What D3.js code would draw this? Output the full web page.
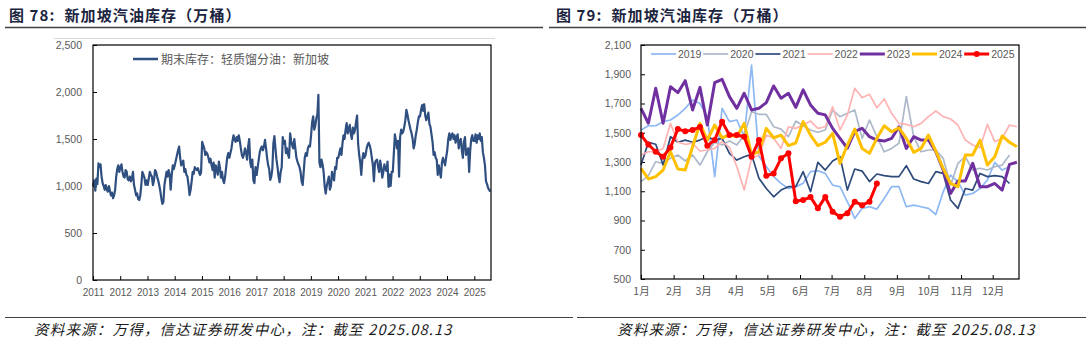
<!DOCTYPE html>
<html><head><meta charset="utf-8">
<script src="https://cdn.jsdelivr.net/npm/d3@7"></script>
<style>body{margin:0;background:#fff}svg{display:block}</style>
</head><body>
<svg id="c" width="1088" height="342"></svg>
<script>
// ---------- Left chart data: biweekly light distillate stocks (Singapore), by year ----------
const d2011 = [1000,1060,950,1080,1020,1240,1200,1230,1100,1030,1000,960,1010,960,940,1000,950,900,930,870,900,960,1100,1180,1220,1150];
const d2012 = [1200,1230,1150,1100,1090,1170,1150,1070,1060,1100,1050,1080,1150,1010,960,900,920,860,851,900,1011,1150,1120,1090,1011,1060];
const d2013 = [1011,1080,1150,1120,1100,1010,1060,1170,1150,1100,1060,1010,950,870,810,830,1011,1080,1150,1100,1170,1120,960,1117,1220,1180];
const d2014 = [1230,1280,1330,1380,1420,1300,1220,1250,1270,1150,1180,1117,1100,1011,904,960,1050,1150,1130,1200,1180,1170,1190,1150,1117,1140];
const d2015 = [1470,1436,1400,1330,1360,1340,1300,1250,1290,1220,1170,1250,1090,1220,1180,1120,1260,1200,1090,1150,1064,1030,1100,1200,1300,1350];
const d2016 = [1300,1350,1400,1480,1540,1490,1470,1520,1480,1540,1480,1400,1330,1300,1340,1400,1350,1280,1420,1500,1250,1200,1280,1060,1030,1200];
const d2017 = [1117,1200,1280,1360,1400,1420,1380,1420,1490,1400,1300,1220,1180,1064,1100,1180,1450,1530,1400,1280,1200,1100,1040,1150,1200,1520];
const d2018 = [1450,1480,1350,1400,1330,1300,1560,1480,1430,1400,1500,1400,1300,1260,1230,1200,1150,1050,1010,1150,1300,1350,1320,1400,1430,1420];
const d2019 = [1540,1680,1740,1600,1640,1720,1760,1970,1250,1200,1280,1230,1150,1000,920,1000,1050,1100,960,1000,1150,1100,1060,1200,1180,1300];
const d2020 = [1300,1350,1400,1330,1450,1540,1500,1600,1670,1560,1600,1650,1550,1500,1620,1560,1600,1680,1750,1450,1330,1250,1117,1280,1350,1300];
const d2021 = [1330,1400,1440,1460,1430,1380,1300,1220,1050,1250,1270,1280,1200,1150,1270,1200,1090,1150,1230,1180,1160,1260,990,1120,1000,1150];
const d2022 = [1150,1350,1550,1480,1400,1480,1100,1520,1600,1560,1580,1630,1700,1810,1760,1700,1650,1600,1560,1500,1400,1450,1540,1600,1680,1740];
const d2023 = [1740,1810,1860,1800,1870,1750,1700,1740,1780,1660,1630,1550,1470,1330,1360,1300,1280,1117,1220,1150,1090,1250,1300,1260,1220,1300];
const d2024 = [1380,1500,1560,1490,1540,1560,1500,1540,1460,1520,1550,1400,1480,1500,1380,1300,1470,1520,1330,1360,1400,1150,1380,1500,1540,1480];
const d2025 = [1480,1550,1460,1540,1500,1560,1480,1520,1360,1300,1220,1050,1020,980,960,940];
const distYears = [2011,2012,2013,2014,2015,2016,2017,2018,2019,2020,2021,2022,2023,2024,2025];
const distSeries = [d2011,d2012,d2013,d2014,d2015,d2016,d2017,d2018,d2019,d2020,d2021,d2022,d2023,d2024,d2025];
const leftYTicks = [0,500,1000,1500,2000,2500];
const leftLegend = "期末库存：轻质馏分油：新加坡";

// ---------- Right chart data: weekly gasoline stocks by year ----------
const w2019 = [1519,1548,1548,1576,1587,1621,1667,1724,1700,1610,1200,1667,1576,1587,1473,1963,1340,1270,1200,1154,1119,1130,1154,1234,1240,1222,1142,1131,1028,914,983,994,978,1051,1131,1131,994,1005,994,983,941,1096,1211,1166,1074,1085,1119,1177,1298,1245,1268];
const w2020 = [1166,1207,1302,1291,1325,1348,1307,1348,1279,1370,1435,1416,1443,1416,1484,1644,1626,1626,1541,1525,1473,1580,1548,1519,1503,1519,1656,1610,1633,1656,1462,1587,1473,1370,1393,1428,1747,1473,1370,1382,1382,1325,1142,1291,1336,1245,1257,1245,1268,1279,1348];
const w2021 = [1279,1435,1421,1279,1473,1435,1450,1435,1450,1473,1450,1462,1359,1313,1336,1352,1189,1119,1062,1108,1131,1131,1234,1097,1298,1245,1307,1336,1108,1252,1238,1166,1218,1207,1200,1200,1275,1184,1166,1153,1234,1222,1040,983,1119,1108,1222,1200,1207,1200,1153];
const w2022 = [1348,1370,1370,1393,1564,1435,1421,1428,1375,1382,1393,1439,1400,1268,1109,1325,1348,1484,1462,1393,1541,1530,1553,1580,1530,1541,1678,1519,1621,1804,1740,1763,1671,1731,1633,1564,1557,1541,1564,1610,1649,1610,1594,1553,1450,1416,1398,1557,1439,1462,1553,1541];
const w2023 = [1667,1565,1804,1565,1815,1774,1856,1656,1810,1553,1842,1865,1747,1667,1770,1656,1667,1706,1820,1736,1770,1674,1793,1690,1633,1622,1530,1462,1394,1510,1530,1473,1450,1443,1461,1541,1393,1473,1450,1450,1370,1245,1085,1170,1170,1291,1131,1131,1153,1108,1284,1298];
const w2024 = [1257,1184,1200,1245,1370,1252,1245,1404,1564,1450,1553,1466,1484,1473,1564,1352,1370,1530,1466,1484,1412,1430,1576,1484,1412,1435,1496,1291,1416,1525,1393,1359,1462,1548,1507,1534,1462,1366,1393,1484,1375,1257,1153,1131,1348,1348,1450,1279,1336,1478,1435,1404];
const w2025 = [1484,1420,1370,1336,1400,1525,1511,1518,1540,1411,1450,1576,1484,1484,1473,1336,1450,1206,1222,1325,1359,1032,1040,1060,983,1060,960,926,950,1029,1005,1029,1153];
const seasonNames = ["2019","2020","2021","2022","2023","2024","2025"];
const seasonValues = [w2019,w2020,w2021,w2022,w2023,w2024,w2025];
const seasonColors = ["#8db8f4","#adb9ca","#2f4b7c","#ffb3b3","#7030a0","#ffc000","#ff0000"];
const seasonWidths = [1.7,1.7,1.7,1.7,3,3,3];
const monthLabels = ["1月","2月","3月","4月","5月","6月","7月","8月","9月","10月","11月","12月"];
const rightYTicks = [500,700,900,1100,1300,1500,1700,1900,2100];

const titleLeft = "图 78:  新加坡汽油库存（万桶）";
const titleRight = "图 79:  新加坡汽油库存（万桶）";
const sourceNote = "资料来源：万得，信达证券研发中心，注：截至 2025.08.13";

// ---------- drawing ----------
const svg = d3.select("#c");
const numFont = "'Liberation Sans', Arial, sans-serif";
const cjkFont = "'Noto Sans CJK SC', sans-serif";
const gray = "#595959";

// titles + underlines
[[titleLeft, 9, 5, 543], [titleRight, 556, 549, 1086]].forEach(([t, x, l0, l1]) => {
  svg.append("text").attr("x", x).attr("y", 21).text(t).attr("xml:space", "preserve").style("white-space", "pre")
    .attr("font-family", cjkFont).attr("font-weight", 700).attr("font-size", 15).attr("letter-spacing", 1.1).attr("fill", "#1c2540");
  svg.append("line").attr("x1", l0).attr("x2", l1).attr("y1", 27.5).attr("y2", 27.5)
    .attr("stroke", "#404040").attr("stroke-width", 1.3);
});

// footer
[[5, 573, 34], [577, 1086, 617]].forEach(([l0, l1, tx]) => {
  svg.append("line").attr("x1", l0).attr("x2", l1).attr("y1", 317.5).attr("y2", 317.5)
    .attr("stroke", "#404040").attr("stroke-width", 1.2);
  svg.append("text").attr("x", tx).attr("y", 335).text(sourceNote)
    .attr("font-family", cjkFont).attr("font-style", "italic").attr("font-size", 14.5).attr("letter-spacing", 1.2).attr("fill", "#1a1a1a");
});

// ===== Left chart =====
const lx = d3.scaleTime().domain([new Date(2011,0,1), new Date(2025,7,13)]).range([93, 491]);
const ly = d3.scaleLinear().domain([0, 2500]).range([280, 45]);
const L = svg.append("g");
L.append("line").attr("x1", 54).attr("x2", 495).attr("y1", 38.5).attr("y2", 38.5).attr("stroke", "#d9d9d9");

const distPoints = distSeries.flatMap((arr, k) => arr.map((v, i) => ({date: new Date(distYears[k], 0, 4 + 14 * i), v})));

const lyAxis = L.append("g").attr("transform", "translate(93,0)")
  .call(d3.axisLeft(ly).tickValues(leftYTicks).tickFormat(d3.format(",")).tickSizeInner(-4).tickSizeOuter(0).tickPadding(11));
const lxAxis = L.append("g").attr("transform", "translate(0,280)")
  .call(d3.axisBottom(lx).ticks(d3.timeYear.every(1)).tickFormat(d3.timeFormat("%Y")).tickSizeInner(-4).tickSizeOuter(0).tickPadding(9));
[lyAxis, lxAxis].forEach(a => {
  a.select(".domain").remove();
  a.selectAll(".tick line").attr("stroke", "#000");
  a.selectAll("text").attr("font-family", numFont).attr("fill", gray);
});
lyAxis.selectAll("text").attr("font-size", 10.5);
lxAxis.selectAll("text").attr("font-size", 10);

L.append("path").datum(distPoints)
  .attr("d", d3.line().x(d => lx(d.date)).y(d => ly(d.v)))
  .attr("fill", "none").attr("stroke", "#2f4f80").attr("stroke-width", 2.2).attr("stroke-linejoin", "round");
L.append("rect").attr("x", 93).attr("y", 45).attr("width", 398).attr("height", 235)
  .attr("fill", "none").attr("stroke", "#000").attr("stroke-width", 1.2);
L.append("line").attr("x1", 133).attr("x2", 158).attr("y1", 59).attr("y2", 59).attr("stroke", "#2f4f80").attr("stroke-width", 2.5);
L.append("text").attr("x", 161).attr("y", 63.5).text(leftLegend)
  .attr("font-family", cjkFont).attr("font-size", 12).attr("fill", gray);

// ===== Right chart =====
const rx = d3.scaleTime().domain([new Date(2021,0,1), new Date(2021,11,26)]).range([641, 1019]);
const ry = d3.scaleLinear().domain([500, 2100]).range([279, 45]);
const R = svg.append("g");
const ryAxis = R.append("g").attr("transform", "translate(641,0)")
  .call(d3.axisLeft(ry).tickValues(rightYTicks).tickFormat(d3.format(",")).tickSizeInner(-4).tickSizeOuter(0).tickPadding(10));
const rxAxis = R.append("g").attr("transform", "translate(0,279)")
  .call(d3.axisBottom(rx).ticks(d3.timeMonth.every(1)).tickFormat(d => monthLabels[d.getMonth()]).tickSizeInner(-4).tickSizeOuter(0).tickPadding(9));
[ryAxis, rxAxis].forEach(a => {
  a.select(".domain").remove();
  a.selectAll(".tick line").attr("stroke", "#000");
  a.selectAll("text").attr("font-family", numFont).attr("fill", gray).attr("font-size", 10.5);
});
rxAxis.selectAll("text").attr("font-family", cjkFont).attr("font-size", 10.5);

const rLine = d3.line().x(d => rx(d.date)).y(d => ry(d.v));
seasonValues.forEach((arr, k) => {
  const pts = arr.map((v, i) => ({date: new Date(2021, 0, 1 + 7 * i), v}));
  R.append("path").datum(pts).attr("d", rLine)
    .attr("fill", "none").attr("stroke", seasonColors[k]).attr("stroke-width", seasonWidths[k]).attr("stroke-linejoin", "round");
  if (k === seasonValues.length - 1) {
    R.selectAll(null).data(pts).enter().append("circle")
      .attr("cx", d => rx(d.date)).attr("cy", d => ry(d.v)).attr("r", 3).attr("fill", seasonColors[k]);
  }
});
R.append("rect").attr("x", 641).attr("y", 45).attr("width", 378).attr("height", 234)
  .attr("fill", "none").attr("stroke", "#000").attr("stroke-width", 1.2);

// legend
seasonNames.forEach((name, k) => {
  const x0 = 651 + k * 52.2;
  R.append("line").attr("x1", x0).attr("x2", x0 + 25).attr("y1", 54).attr("y2", 54)
    .attr("stroke", seasonColors[k]).attr("stroke-width", seasonWidths[k]);
  if (k === seasonNames.length - 1) {
    R.append("circle").attr("cx", x0 + 12.5).attr("cy", 54).attr("r", 3).attr("fill", seasonColors[k]);
  }
  R.append("text").attr("x", x0 + 27).attr("y", 58).text(name)
    .attr("font-family", numFont).attr("font-size", 10.5).attr("fill", gray);
});
</script>
</body></html>
